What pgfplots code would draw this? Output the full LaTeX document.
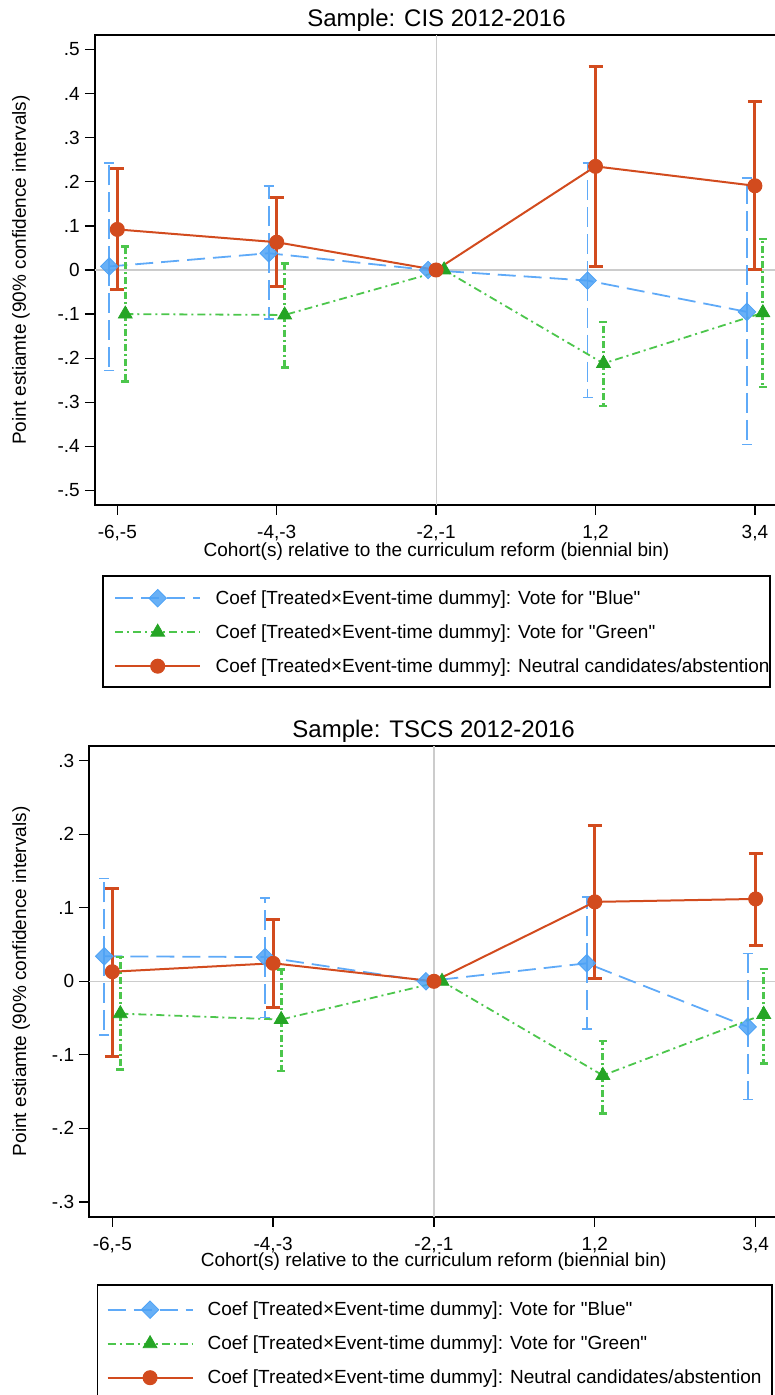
\documentclass[border=0pt]{standalone}
\usepackage{fontspec}
\setmainfont{Liberation Sans}[Ligatures=TeXOff]
\usepackage{pgfplots}
\usepackage{pgfplotstable}
\pgfplotsset{compat=1.18}
\definecolor{cBlueL}{HTML}{5FAAF8}
\definecolor{cBlueM}{HTML}{4EA2F5}
\definecolor{cGreenL}{HTML}{4CC64C}
\definecolor{cGreenM}{HTML}{25A525}
\definecolor{cRed}{HTML}{D24B1E}
\definecolor{cGrid}{HTML}{CCCCCC}

% Panel 1: CIS 2012-2016
\pgfplotstableread{
x y lo hi
-0.05 0.008 -0.228 0.242
0.95 0.038 -0.111 0.191
1.95 0.000 0.000 0.000
2.95 -0.024 -0.289 0.242
3.95 -0.095 -0.396 0.208
}\cisBlue
\pgfplotstableread{
x y lo hi
0.05 -0.100 -0.253 0.053
1.05 -0.102 -0.221 0.015
2.05 0.000 0.000 0.000
3.05 -0.212 -0.309 -0.118
4.05 -0.097 -0.265 0.070
}\cisGreen
\pgfplotstableread{
x y lo hi
0 0.092 -0.045 0.231
1 0.063 -0.038 0.164
2 0.000 0.000 0.000
3 0.235 0.008 0.461
4 0.191 0.000 0.382
}\cisRed
% Panel 2: TSCS 2012-2016
\pgfplotstableread{
x y lo hi
-0.05 0.034 -0.073 0.140
0.95 0.033 -0.049 0.113
1.95 0.000 0.000 0.000
2.95 0.0245 -0.065 0.1145
3.95 -0.062 -0.161 0.038
}\tscsBlue
\pgfplotstableread{
x y lo hi
0.05 -0.044 -0.120 0.033
1.05 -0.052 -0.122 0.016
2.05 0.000 0.000 0.000
3.05 -0.128 -0.180 -0.081
4.05 -0.045 -0.112 0.017
}\tscsGreen
\pgfplotstableread{
x y lo hi
0 0.013 -0.102 0.126
1 0.0245 -0.035 0.084
2 0.000 0.000 0.000
3 0.108 0.004 0.212
4 0.112 0.049 0.174
}\tscsRed

\newcommand{\fnt}{\fontsize{19}{22}\selectfont}

\pgfplotsset{
  /pgfplots/table/citab/.style={x=x, y=y, y error plus expr=\thisrow{hi}-\thisrow{y},
    y error minus expr=\thisrow{y}-\thisrow{lo}},
  panel/.style={
    scale only axis, anchor=south west,
    axis line style={line width=1.8pt},
    tick style={line width=1.3pt, black},
    major tick length=10pt, tick align=outside,
    xtick pos=bottom, ytick pos=left,
    xtick={0,1,2,3,4},
    xticklabels={{-6,-5},{-4,-3},{-2,-1},{1,2},{3,4}},
    tick label style={font=\fnt},
    xticklabel style={inner sep=0pt, anchor=north, yshift=-10pt},
    yticklabel style={inner sep=0pt, anchor=east, xshift=-5pt},
    label style={font=\fnt},
    title style={font=\fontsize{24}{28}\selectfont, anchor=base},
    xlabel={Cohort(s) relative to the curriculum reform (biennial bin)},
    ylabel={Point estiamte (90\% confidence intervals)},
    extra x ticks={2}, extra x tick labels={},
    extra x tick style={grid=major, major grid style={cGrid, line width=1.2pt}},
    extra y ticks={0}, extra y tick labels={},
    extra y tick style={grid=major, major grid style={cGrid, line width=1.2pt}},
    legend cell align=left,
    legend image code/.code={\draw[mark repeat=2, mark phase=2, ##1] plot coordinates {(0pt,0pt) (42.5pt,0pt) (85pt,0pt)};},
  },
  blueline/.style={color=cBlueL, line width=1.8pt, dash pattern=on 18pt off 8pt,
    mark=square*, mark size=6.2pt,
    mark options={solid, rotate=45, draw=cBlueM, fill=cBlueM, fill opacity=0.85, line width=0.8pt}},
  greenline/.style={color=cGreenL, line width=1.8pt, dash pattern=on 8pt off 4pt on 2pt off 4pt,
    mark=triangle*, mark size=8pt,
    mark options={solid, draw=cGreenM, fill=cGreenM, line width=0.8pt}},
  redline/.style={color=cRed, line width=2pt, mark=*, mark size=7pt,
    mark options={solid, draw=cRed, fill=cRed, line width=1pt}},
  blueci/.style={forget plot, color=cBlueL, draw=none, mark=none, skip coords between index={2}{3},
    error bars/.cd, y dir=both, y explicit,
    error bar style={color=cBlueL, draw=cBlueL, line width=1.8pt, dash pattern=on 20pt off 7pt},
    error mark options={color=cBlueL, draw=cBlueL, solid, rotate=90, line width=1.6pt, mark size=5pt}},
  greenci/.style={forget plot, color=cGreenL, draw=none, mark=none, skip coords between index={2}{3},
    error bars/.cd, y dir=both, y explicit,
    error bar style={color=cGreenL, draw=cGreenL, line width=2.8pt, dash pattern=on 7pt off 3pt on 2pt off 3pt},
    error mark options={color=cGreenL, draw=cGreenL, solid, rotate=90, line width=2.5pt, mark size=4pt}},
  redci/.style={forget plot, color=cRed, draw=none, mark=none, skip coords between index={2}{3},
    error bars/.cd, y dir=both, y explicit,
    error bar style={color=cRed, draw=cRed, line width=3pt, solid},
    error mark options={color=cRed, draw=cRed, solid, rotate=90, line width=3pt, mark size=7pt}},
}

\begin{document}
\begin{tikzpicture}
% ---------------- Panel 1 ----------------
\begin{axis}[panel,
  at={(95pt,890pt)}, width=683pt, height=470pt,
  xmin=-0.140, xmax=4.145, ymin=-0.533, ymax=0.533,
  ytick={-0.5,-0.4,-0.3,-0.2,-0.1,0,0.1,0.2,0.3,0.4,0.5},
  yticklabels={-.5,-.4,-.3,-.2,-.1,0,.1,.2,.3,.4,.5},
  title={Sample: CIS 2012-2016},
  title style={at={(axis description cs:0.5,1.005)}},
  xlabel style={at={(axis description cs:0.5,-0.1)}, anchor=center},
  ylabel style={at={(axis description cs:-0.1083,0.5)}, anchor=center, rotate=0},
  legend style={draw=none, fill=none, at={(axis description cs:0.0278,-0.1787)}, anchor=north west,
    inner sep=0pt, row sep=16pt, column sep=14.5pt,
    nodes={inner sep=0pt, text height=15pt, text depth=3pt, font=\fnt}},
]
\addplot[blueci] table[citab] {\cisBlue};
\addplot[blueline] table[x=x, y=y] {\cisBlue};
\addlegendentry{Coef [Treated×Event-time dummy]: Vote for "Blue"}
\addplot[greenci] table[citab] {\cisGreen};
\addplot[greenline] table[x=x, y=y] {\cisGreen};
\addlegendentry{Coef [Treated×Event-time dummy]: Vote for "Green"}
\addplot[redci] table[citab] {\cisRed};
\addplot[redline] table[x=x, y=y] {\cisRed};
\addlegendentry{Coef [Treated×Event-time dummy]: Neutral candidates/abstention}
\end{axis}
\draw[line width=1.3pt] (103pt,819pt) rectangle (770pt,708pt);
% ---------------- Panel 2 ----------------
\begin{axis}[panel,
  at={(89.3pt,178.4pt)}, width=688.7pt, height=470.6pt,
  xmin=-0.143, xmax=4.139, ymin=-0.32, ymax=0.32,
  ytick={-0.3,-0.2,-0.1,0,0.1,0.2,0.3},
  yticklabels={-.3,-.2,-.1,0,.1,.2,.3},
  title={Sample: TSCS 2012-2016},
  title style={at={(axis description cs:0.5,1.005)}},
  xlabel style={at={(axis description cs:0.5,-0.0965)}, anchor=center},
  ylabel style={at={(axis description cs:-0.0987,0.5)}, anchor=center, rotate=0},
  legend style={draw=none, fill=none, at={(axis description cs:0.0248,-0.1783)}, anchor=north west,
    inner sep=0pt, row sep=16pt, column sep=14pt,
    nodes={inner sep=0pt, text height=15pt, text depth=3pt, font=\fnt}},
]
\addplot[blueci] table[citab] {\tscsBlue};
\addplot[blueline] table[x=x, y=y] {\tscsBlue};
\addlegendentry{Coef [Treated×Event-time dummy]: Vote for "Blue"}
\addplot[greenci] table[citab] {\tscsGreen};
\addplot[greenline] table[x=x, y=y] {\tscsGreen};
\addlegendentry{Coef [Treated×Event-time dummy]: Vote for "Green"}
\addplot[redci] table[citab] {\tscsRed};
\addplot[redline] table[x=x, y=y] {\tscsRed};
\addlegendentry{Coef [Treated×Event-time dummy]: Neutral candidates/abstention}
\end{axis}
\draw[line width=1.3pt] (97.5pt,110pt) rectangle (772pt,-2pt);
\pgfresetboundingbox
\useasboundingbox (0pt,0pt) rectangle (775pt,1395pt);
\end{tikzpicture}
\end{document}
